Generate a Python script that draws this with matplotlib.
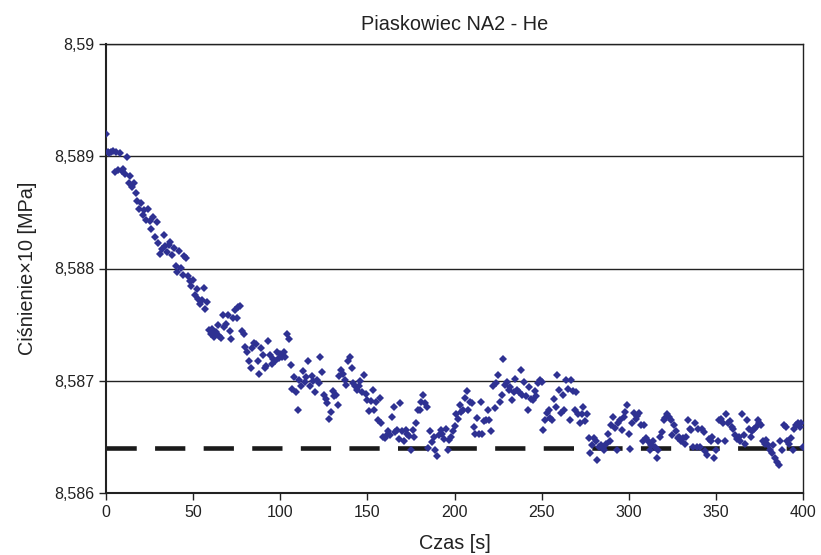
import numpy as np
import matplotlib
matplotlib.use("Agg")
import matplotlib.pyplot as plt
from matplotlib.ticker import FixedLocator, FixedFormatter

plt.rcParams['font.family'] = ['Liberation Sans', 'DejaVu Sans']

# odczyty w jednostkach 1e-4 MPa powyzej 8,586 (probkowanie co 1 s)
odczyty = [
    32.0, 30.4, 30.3, 30.4, 30.5, 28.6, 30.4, 28.8, 30.3, 28.7,
    28.9, 28.4, 29.9, 27.6, 28.2, 27.3, 27.6, 26.7, 26.0, 25.3,
    25.8, 24.8, 25.2, 24.3, 25.3, 24.2, 23.5, 24.6, 22.8, 24.1,
    22.3, 21.3, 21.7, 23.0, 22.0, 21.5, 22.1, 22.4, 21.2, 21.8,
    20.2, 19.7, 21.6, 20.0, 19.4, 21.1, 20.9, 19.3, 18.9, 18.4,
    19.0, 17.6, 18.2, 17.3, 16.8, 17.2, 18.3, 16.4, 17.0, 14.5,
    14.2, 14.6, 13.9, 14.3, 15.0, 14.0, 13.8, 15.9, 14.8, 15.1,
    15.9, 14.4, 13.7, 15.6, 16.3, 15.6, 16.6, 16.7, 14.4, 14.2,
    13.0, 12.6, 11.8, 11.1, 12.9, 13.4, 13.3, 11.8, 10.6, 12.9,
    12.3, 11.1, 11.3, 13.5, 12.3, 11.5, 11.9, 11.8, 12.6, 12.0,
    12.4, 12.1, 12.6, 12.1, 14.2, 13.7, 11.4, 9.3, 10.3, 9.0,
    7.4, 10.1, 9.5, 10.9, 9.9, 10.3, 11.8, 9.5, 10.4, 10.0,
    9.0, 10.1, 9.8, 12.1, 10.8, 8.7, 8.4, 8.0, 6.6, 7.2,
    9.1, 8.6, 8.7, 7.8, 10.4, 11.0, 10.6, 10.1, 9.6, 11.8,
    12.1, 11.1, 9.8, 9.5, 9.2, 9.5, 10.0, 9.0, 10.5, 8.8,
    8.3, 7.3, 8.2, 9.2, 7.4, 8.1, 6.5, 8.5, 6.2, 5.0,
    4.9, 5.2, 5.5, 5.2, 6.8, 7.7, 5.4, 5.6, 4.8, 8.0,
    5.5, 4.6, 5.6, 5.3, 5.1, 3.8, 5.6, 5.0, 6.2, 7.4,
    7.4, 8.1, 8.7, 8.0, 7.7, 4.0, 5.5, 4.5, 5.0, 3.8,
    3.3, 5.2, 5.6, 5.3, 4.8, 5.7, 3.8, 4.7, 5.0, 5.5,
    6.0, 7.0, 6.6, 7.8, 7.2, 7.4, 8.5, 9.1, 7.4, 8.1,
    8.0, 5.9, 5.3, 6.7, 5.3, 8.1, 5.3, 6.4, 6.5, 7.4,
    6.5, 5.5, 9.5, 7.6, 9.8, 10.5, 8.1, 8.7, 11.9, 9.6,
    9.9, 9.2, 9.4, 8.3, 9.0, 10.2, 9.2, 9.0, 11.0, 8.7,
    9.9, 8.6, 7.4, 9.4, 8.4, 8.3, 9.1, 8.6, 9.8, 10.1,
    9.9, 5.6, 6.5, 7.1, 7.4, 6.7, 6.5, 8.4, 7.7, 10.5,
    9.2, 7.1, 8.7, 7.4, 10.1, 9.3, 6.5, 10.1, 9.1, 7.4,
    9.0, 7.0, 6.2, 7.0, 7.7, 6.4, 7.0, 4.9, 3.6, 4.3,
    4.9, 4.6, 2.9, 4.1, 4.3, 4.0, 3.8, 4.4, 5.3, 4.6,
    6.1, 6.8, 5.8, 3.8, 6.2, 6.5, 5.6, 6.8, 7.2, 7.8,
    5.3, 3.9, 6.2, 7.1, 6.6, 6.9, 7.1, 6.1, 4.6, 6.1,
    4.9, 4.6, 3.8, 4.3, 4.6, 4.1, 3.1, 3.8, 5.0, 5.4,
    6.5, 6.7, 7.0, 6.8, 6.5, 5.2, 6.1, 5.5, 4.9, 5.0,
    4.6, 4.9, 4.4, 5.0, 6.5, 5.7, 5.6, 4.1, 6.2, 4.1,
    5.7, 4.1, 5.7, 5.4, 3.7, 3.4, 4.8, 4.6, 5.0, 3.1,
    3.8, 4.6, 6.5, 6.6, 6.2, 4.6, 7.0, 6.2, 6.4, 5.9,
    5.7, 5.2, 4.8, 5.0, 4.6, 7.0, 5.2, 4.4, 6.5, 5.7,
    5.0, 5.5, 5.7, 5.9, 6.5, 6.2, 6.1, 4.6, 4.4, 4.7,
    4.3, 3.8, 3.6, 4.3, 3.1, 2.8, 2.5, 4.6, 3.8, 6.1,
    5.9, 4.6, 4.4, 4.9, 3.8, 5.7, 6.1, 6.2, 5.9, 6.2,
    4.1,
]
czas = np.arange(len(odczyty))
cisnienie = 8.586 + np.array(odczyty) * 1e-4

poziom = 8.5864
x_ticks = [0, 50, 100, 150, 200, 250, 300, 350, 400]
y_ticks = [8.586, 8.587, 8.588, 8.589, 8.590]
y_labels = ["8,586", "8,587", "8,588", "8,589", "8,59"]

fig = plt.figure(figsize=(8.21, 5.55), dpi=100)
ax = fig.add_axes([106 / 821, 1 - 493 / 555, 697 / 821, 449 / 555])

ax.axhline(poziom, color="#1a1a1a", lw=3.3, linestyle=(0, (6.6, 4.0)), zorder=2)
ax.plot(czas, cisnienie, linestyle="none", marker="D", markersize=4.1,
        color="#2E3192", markeredgewidth=0, zorder=3)

ax.set_xlim(0, 400)
ax.set_ylim(8.586, 8.590)
ax.xaxis.set_major_locator(FixedLocator(x_ticks))
ax.yaxis.set_major_locator(FixedLocator(y_ticks))
ax.yaxis.set_major_formatter(FixedFormatter(y_labels))
ax.grid(axis="y", color="#222222", lw=1.0)
ax.set_axisbelow(True)

for s in ax.spines.values():
    s.set_color("#222222")
    s.set_linewidth(1.0)
ax.spines["left"].set_linewidth(1.5)
ax.spines["bottom"].set_linewidth(1.5)

ax.tick_params(direction="out", length=5, width=1, colors="#222222",
               labelsize=11.5, labelcolor="#222222")

ax.set_title("Piaskowiec NA2 - He", fontsize=14.3, color="#222222", pad=10)
ax.set_xlabel("Czas [s]", fontsize=14.3, color="#222222", labelpad=10)
ax.set_ylabel("Ciśnienie×10 [MPa]", fontsize=14.3, color="#222222", labelpad=12)

fig.savefig("out.png", dpi=100)
plt.close(fig)
